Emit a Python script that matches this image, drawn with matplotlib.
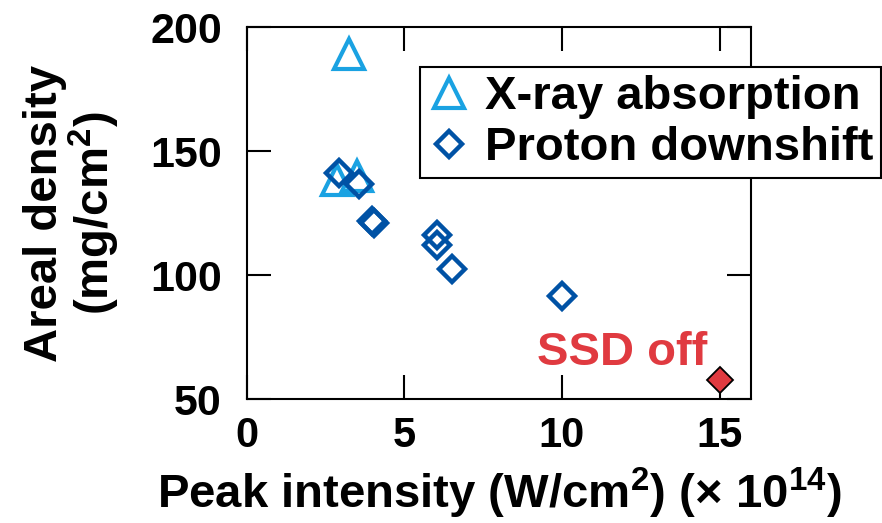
from __future__ import annotations

import matplotlib

matplotlib.use("Agg")
import matplotlib.pyplot as plt

# peak intensity in units of 1e14 W/cm^2, areal density in mg/cm^2
xray_intensity = [3.23, 2.85, 3.5]
xray_density = [189.0, 138.5, 140.0]

proton_intensity = [2.93, 3.57, 3.98, 4.02, 6.02, 6.02, 6.52, 10.0]
proton_density = [141.3, 136.6, 121.8, 121.2, 116.1, 112.3, 102.3, 91.5]

ssd_off_intensity = [15.0]
ssd_off_density = [57.6]

x_ticks = [0, 5, 10, 15]
y_ticks = [50, 100, 150, 200]

LIGHT_BLUE = "#1aa2e2"
DARK_BLUE = "#0052a5"
RED = "#e03a40"

FAMILY = ["Liberation Sans", "DejaVu Sans"]


def main() -> None:
    plt.rcParams["font.family"] = FAMILY
    plt.rcParams["font.weight"] = "bold"
    plt.rcParams["mathtext.fontset"] = "custom"
    plt.rcParams["mathtext.rm"] = "Liberation Sans"
    plt.rcParams["mathtext.it"] = "Liberation Sans"
    plt.rcParams["mathtext.bf"] = "Liberation Sans:bold"

    fig = plt.figure(figsize=(8.82, 5.23), dpi=100)
    ax = fig.add_axes([0.280, 0.237, 0.5715, 0.711])

    ax.plot(
        xray_intensity, xray_density, linestyle="none", marker="^",
        markersize=21, markerfacecolor="none", markeredgecolor=LIGHT_BLUE,
        markeredgewidth=3.0, label="X-ray absorption", zorder=3,
    )
    ax.plot(
        proton_intensity, proton_density, linestyle="none", marker="D",
        markersize=13, markerfacecolor="none", markeredgecolor=DARK_BLUE,
        markeredgewidth=3.2, label="Proton downshift", zorder=4,
    )
    ax.plot(
        ssd_off_intensity, ssd_off_density, linestyle="none", marker="D",
        markersize=13, markerfacecolor=RED, markeredgecolor="black",
        markeredgewidth=1.3, zorder=5,
    )
    ax.text(14.6, 63.7, "SSD off", color=RED, fontsize=34, fontweight="bold",
            ha="right", va="baseline")

    ax.set_xlim(0, 16)
    ax.set_ylim(50, 200)
    ax.set_xticks(x_ticks)
    ax.set_yticks(y_ticks)
    ax.tick_params(direction="in", length=17, width=1.5, top=True, right=True)
    ax.tick_params(axis="x", pad=12, labelsize=30)
    ax.tick_params(axis="y", pad=18, labelsize=31)
    for spine in ax.spines.values():
        spine.set_linewidth(1.5)

    ax.set_xlabel(r"Peak intensity $($W/cm$^{\mathbf{2}})$ $(\times$ 10$^{\mathbf{14}})$",
                  fontsize=34, fontweight="bold", labelpad=7)
    ax.set_ylabel("Areal density\n" + r"$($mg/cm$^{\mathbf{2}})$", fontsize=34,
                  fontweight="bold", linespacing=1.0, labelpad=20)

    leg = ax.legend(
        loc="upper right", bbox_to_anchor=(881 / 882, 1 - 67 / 523),
        bbox_transform=fig.transFigure, fontsize=34, frameon=True,
        fancybox=False, framealpha=1, edgecolor="black", borderaxespad=0,
        borderpad=0.17, handlelength=0.89, handletextpad=0.3, labelspacing=0.15,
    )
    leg.get_frame().set_linewidth(1.5)

    fig.savefig("out.png", dpi=100)
    plt.close(fig)


if __name__ == "__main__":
    main()
